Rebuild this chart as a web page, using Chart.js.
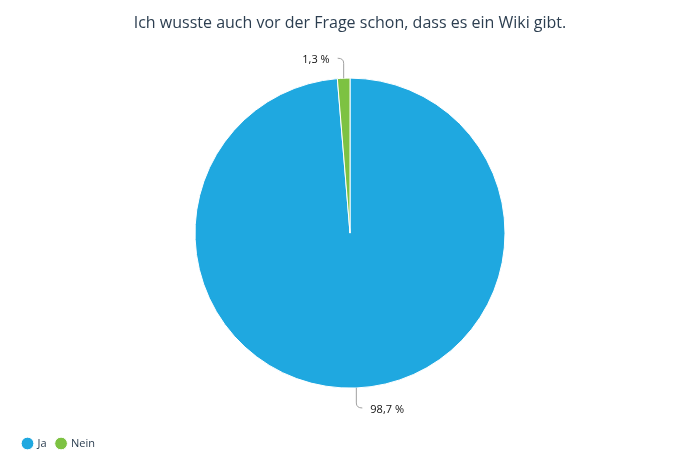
<!DOCTYPE html>
<html>
<head>
<meta charset="utf-8">
<script src="https://cdn.jsdelivr.net/npm/chart.js@4"></script>
<style>
  html, body { margin: 0; padding: 0; background: #fff; }
  #wrap { width: 700px; height: 474px; }
</style>
</head>
<body>
<div id="wrap"><canvas id="myPieChart"></canvas></div>
<script>
// Daten fuer das Kreisdiagramm (Prozent)
const kategorien = ['Ja', 'Nein'];
const anteile = [98.7, 1.3];
const farben = ['#1fa8e0', '#7dc242'];

// Prozentwert im deutschen Format
function formatProzent(v) {
  return v.toFixed(1).replace('.', ',') + ' %';
}

// Beschriftungen mit Fuehrungslinien
const fuehrungslinien = {
  id: 'fuehrungslinien',
  afterDatasetsDraw(chart) {
    const ctx = chart.ctx;
    const meta = chart.getDatasetMeta(0);
    ctx.save();
    ctx.font = '11px "Open Sans", sans-serif';
    ctx.textBaseline = 'middle';
    meta.data.forEach((arc, i) => {
      const p = arc.getProps(['x', 'y', 'startAngle', 'endAngle', 'outerRadius']);
      const mitte = (p.startAngle + p.endAngle) / 2;
      const x0 = p.x + Math.cos(mitte) * p.outerRadius;
      const y0 = p.y + Math.sin(mitte) * p.outerRadius;
      const dy = Math.sin(mitte) >= 0 ? 1 : -1;
      const dx = Math.cos(mitte) >= 0 ? 1 : -1;
      ctx.strokeStyle = '#a0a0a0';
      ctx.lineWidth = 1;
      ctx.beginPath();
      ctx.moveTo(x0, y0);
      ctx.lineTo(x0, y0 + dy * 15);
      ctx.quadraticCurveTo(x0, y0 + dy * 20, x0 + dx * 6, y0 + dy * 20);
      ctx.stroke();
      ctx.fillStyle = '#111';
      ctx.textAlign = dx > 0 ? 'left' : 'right';
      ctx.fillText(formatProzent(anteile[i]), x0 + dx * 14, y0 + dy * 20 + 2);
    });
    ctx.restore();
  }
};

const ctx = document.getElementById('myPieChart').getContext('2d');
new Chart(ctx, {
  type: 'pie',
  data: {
    labels: kategorien,
    datasets: [{
      data: anteile,
      backgroundColor: farben,
      borderColor: '#ffffff',
      borderWidth: 1,
      radius: 155
    }]
  },
  options: {
    responsive: true,
    maintainAspectRatio: false,
    animation: false,
    layout: { padding: { left: 13, right: 13, bottom: 15 } },
    plugins: {
      title: {
        display: true,
        text: 'Ich wusste auch vor der Frage schon, dass es ein Wiki gibt.',
        color: '#2c3e50',
        font: { family: '"Open Sans", sans-serif', size: 16, weight: 'normal' },
        padding: { top: 14, bottom: 5 }
      },
      legend: {
        position: 'bottom',
        align: 'start',
        labels: {
          usePointStyle: true,
          pointStyle: 'circle',
          boxWidth: 9,
          boxHeight: 9,
          color: '#2c3e50',
          font: { family: '"Open Sans", sans-serif', size: 11 }
        }
      },
      tooltip: { enabled: false }
    }
  },
  plugins: [fuehrungslinien]
});
</script>
</body>
</html>
